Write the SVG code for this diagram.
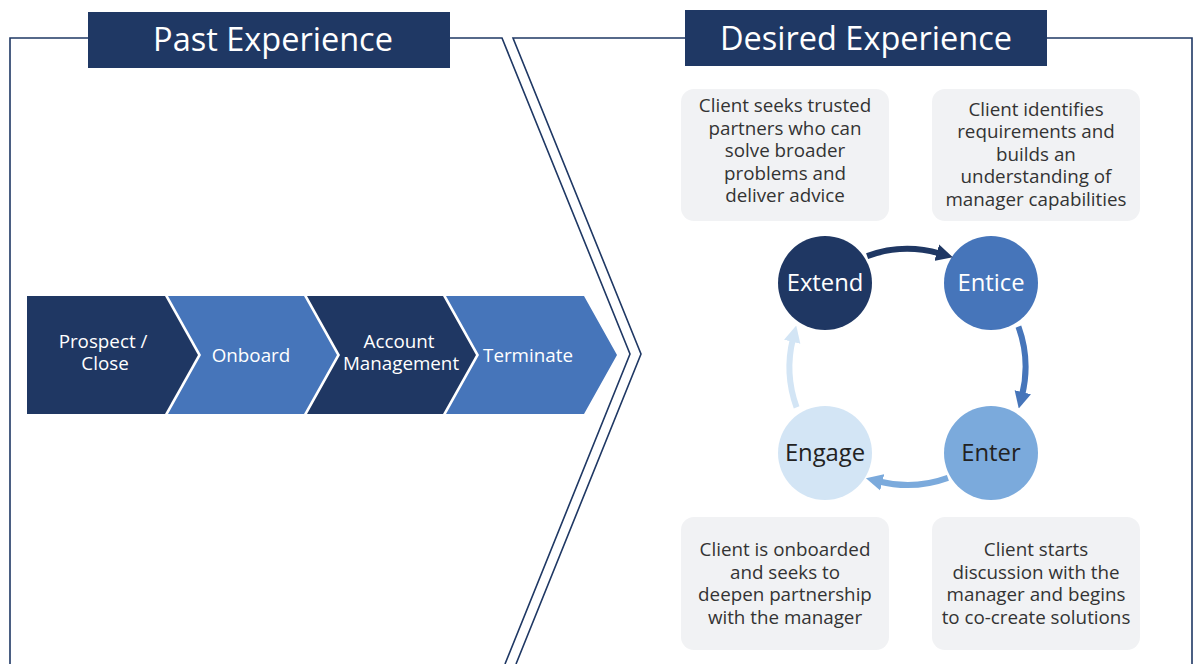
<svg xmlns="http://www.w3.org/2000/svg" width="1194" height="664" viewBox="0 0 1194 664">
<style>
.frame{fill:none;stroke:#1F3864;stroke-width:1.6}
.title{fill:#1F3864}
.ttl{font-family:"Open Sans","Liberation Sans",sans-serif;font-size:32.5px;fill:#fff;text-anchor:middle}
.chev{font-family:"Open Sans","Liberation Sans",sans-serif;font-size:18.8px;fill:#fff;text-anchor:middle}
.box{fill:#F1F2F4}
.bt{font-family:"Open Sans","Liberation Sans",sans-serif;font-size:18.8px;fill:#333;text-anchor:middle}
.nt{font-family:"Open Sans","Liberation Sans",sans-serif;font-size:23.8px;text-anchor:middle}
.arc{fill:none;stroke-width:6}
</style>
<defs>
<marker id="m1" viewBox="0 0 10 10" refX="2" refY="5" markerWidth="2.8" markerHeight="3" orient="auto"><path d="M0,0 L10,5 L0,10 Z" fill="#1F3763"/></marker>
<marker id="m2" viewBox="0 0 10 10" refX="2" refY="5" markerWidth="2.8" markerHeight="3" orient="auto"><path d="M0,0 L10,5 L0,10 Z" fill="#4675BA"/></marker>
<marker id="m3" viewBox="0 0 10 10" refX="2" refY="5" markerWidth="2.8" markerHeight="3" orient="auto"><path d="M0,0 L10,5 L0,10 Z" fill="#7BAADC"/></marker>
<marker id="m4" viewBox="0 0 10 10" refX="2" refY="5" markerWidth="2.8" markerHeight="3" orient="auto"><path d="M0,0 L10,5 L0,10 Z" fill="#D3E5F5"/></marker>
</defs>
<rect width="1194" height="664" fill="#fff"/>
<g id="frames">
<path class="frame" d="M10,664 L10,38 L502,38 L630,354 L505,664"/>
<path class="frame" d="M516,664 L641,354 L513,38 L1192,38 L1192,664"/>
</g>
<g id="title-past">
<rect class="title" x="88" y="12" width="362" height="56"/>
<text class="ttl" x="273" y="51">Past Experience</text>
</g>
<g id="title-desired">
<rect class="title" x="685" y="10" width="362" height="56"/>
<text class="ttl" x="866" y="50">Desired Experience</text>
</g>
<g id="prospect">
<path d="M27,296 L165,296 L198,355 L165,414 L27,414 Z" fill="#1F3763"/>
<text class="chev" x="103" y="348">Prospect /</text>
<text class="chev" x="105" y="370">Close</text>
</g>
<g id="onboard">
<path d="M168,296 L304,296 L337,355 L304,414 L168,414 L201,355 Z" fill="#4675BA"/>
<text class="chev" x="251" y="362">Onboard</text>
</g>
<g id="account">
<path d="M307,296 L443,296 L476,355 L443,414 L307,414 L340,355 Z" fill="#1F3763"/>
<text class="chev" x="399" y="348">Account</text>
<text class="chev" x="401" y="370">Management</text>
</g>
<g id="terminate">
<path d="M446,296 L584,296 L617,355 L584,414 L446,414 L479,355 Z" fill="#4675BA"/>
<text class="chev" x="528" y="362">Terminate</text>
</g>
<g id="box-seeks">
<rect class="box" x="681" y="89" width="208" height="132" rx="13"/>
<text class="bt" x="785" y="112">Client seeks trusted</text>
<text class="bt" x="785" y="135">partners who can</text>
<text class="bt" x="785" y="157">solve broader</text>
<text class="bt" x="785" y="180">problems and</text>
<text class="bt" x="785" y="202">deliver advice</text>
</g>
<g id="box-identifies">
<rect class="box" x="932" y="89" width="208" height="132" rx="13"/>
<text class="bt" x="1036" y="116">Client identifies</text>
<text class="bt" x="1036" y="138">requirements and</text>
<text class="bt" x="1036" y="161">builds an</text>
<text class="bt" x="1036" y="183">understanding of</text>
<text class="bt" x="1036" y="206">manager capabilities</text>
</g>
<g id="box-onboarded">
<rect class="box" x="681" y="517" width="208" height="133" rx="13"/>
<text class="bt" x="785" y="556">Client is onboarded</text>
<text class="bt" x="785" y="579">and seeks to</text>
<text class="bt" x="785" y="601">deepen partnership</text>
<text class="bt" x="785" y="624">with the manager</text>
</g>
<g id="box-starts">
<rect class="box" x="932" y="517" width="208" height="133" rx="13"/>
<text class="bt" x="1036" y="556">Client starts</text>
<text class="bt" x="1036" y="579">discussion with the</text>
<text class="bt" x="1036" y="601">manager and begins</text>
<text class="bt" x="1036" y="624">to co-create solutions</text>
</g>
<g id="extend">
<circle cx="825" cy="283" r="47" fill="#1F3763"/>
<text class="nt" x="825" y="291" fill="#fff">Extend</text>
</g>
<g id="entice">
<circle cx="991" cy="283" r="47" fill="#4675BA"/>
<text class="nt" x="991" y="291" fill="#fff">Entice</text>
</g>
<g id="enter">
<circle cx="991" cy="453" r="47" fill="#7BAADC"/>
<text class="nt" x="991" y="461" fill="#222">Enter</text>
</g>
<g id="engage">
<circle cx="825" cy="453" r="47" fill="#D3E5F5"/>
<text class="nt" x="825" y="461" fill="#222">Engage</text>
</g>
<g id="connectors">
<path class="arc" stroke="#1F3763" marker-end="url(#m1)" d="M867.1,256.1 A118,118 0 0 1 940.0,253.6"/>
<path class="arc" stroke="#4675BA" marker-end="url(#m2)" d="M1018.4,326.6 A118,118 0 0 1 1022.0,395.5"/>
<path class="arc" stroke="#7BAADC" marker-end="url(#m3)" d="M947.9,477.9 A118,118 0 0 1 879.0,481.5"/>
<path class="arc" stroke="#D3E5F5" marker-end="url(#m4)" d="M796.6,407.4 A118,118 0 0 1 793.0,338.5"/>
</g>
</svg>
